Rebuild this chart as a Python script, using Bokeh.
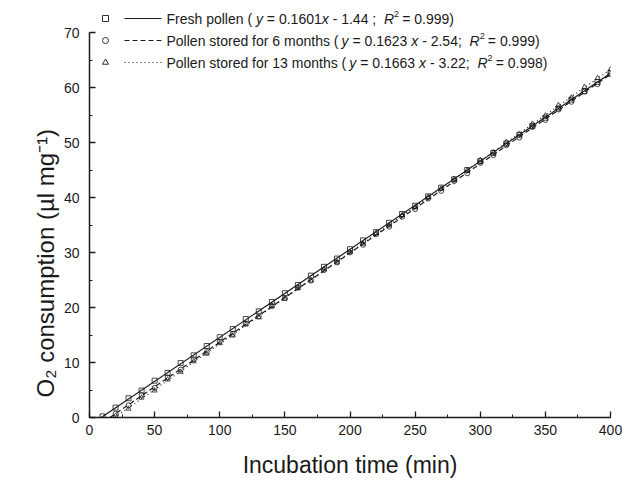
from bokeh.plotting import figure
from bokeh.models import Range1d, SingleIntervalTicker, Title
from bokeh.core.properties import value
from bokeh.embed import file_html
from bokeh.resources import INLINE

# ---------------- data ----------------
times = [10, 20, 30, 40, 50, 60, 70, 80, 90, 100, 110, 120, 130, 140, 150, 160, 170, 180, 190, 200,
         210, 220, 230, 240, 250, 260, 270, 280, 290, 300, 310, 320, 330, 340, 350, 360, 370, 380, 390, 400]
fresh = [0.2, 1.8, 3.5, 4.9, 6.7, 8.1, 9.9, 11.3, 13.0, 14.6, 16.1, 17.9, 19.3, 21.0, 22.6, 24.1, 25.8, 27.4, 28.9, 30.6,
         32.2, 33.7, 35.4, 37.0, 38.5, 40.2, 41.8, 43.3, 45.0, 46.6, 48.1, 49.8, 51.4, 53.0, 54.5, 56.2, 57.8, 59.3, 61.0, 62.6]
times_s = times[1:]
stored6 = [0.7, 2.2, 4.1, 5.4, 7.3, 8.7, 10.6, 11.9, 13.8, 15.2, 17.1, 18.4, 20.3, 21.7, 23.6, 24.9, 26.8, 28.2, 30.0,
           31.4, 33.3, 34.7, 36.5, 37.9, 39.8, 41.2, 43.0, 44.4, 46.3, 47.7, 49.5, 50.9, 52.8, 54.1, 56.0, 57.4, 59.3, 60.6, 62.4]
stored13 = [0.3, 1.6, 3.6, 4.9, 6.9, 8.3, 10.2, 11.6, 13.5, 14.9, 16.9, 18.2, 20.2, 21.6, 23.5, 24.9, 26.9, 28.2, 30.1,
            31.6, 33.5, 34.9, 36.8, 38.2, 40.1, 41.6, 43.4, 44.9, 46.8, 48.2, 50.1, 51.5, 53.4, 54.9, 56.8, 58.2, 60.1, 61.7, 63.3]

series_names = ["Fresh pollen", "Pollen stored for 6 months", "Pollen stored for 13 months"]
slopes = [0.1601, 0.1623, 0.1663]
intercepts = [-1.44, -2.54, -3.22]
r2_values = [0.999, 0.999, 0.998]
x_ticks_major = [0, 50, 100, 150, 200, 250, 300, 350, 400]
y_ticks_major = [0, 10, 20, 30, 40, 50, 60, 70]
x_title = "Incubation time (min)"
y_title = "O\u2082 consumption (\u00b5l mg\u207b\u00b9)"

# ---------------- layout helpers ----------------
FONT = "Liberation Sans"
INK = "#1a1a1a"
FRAME_LEFT = 89
PX_X = 1.3025   # px per minute
PX_Y = 5.5      # px per unit
FRAME_BOTTOM_PX = 417

W = {' ': 278, '(': 333, ')': 333, '=': 584, '.': 278, '-': 333, ';': 278, 'F': 611, 'P': 611, 'R': 722,
     'r': 333, 'e': 556, 's': 500, 'h': 556, 'p': 556, 'o': 556, 'l': 222, 'n': 556, 't': 278, 'd': 556,
     'f': 278, 'm': 833, 'i': 222, 'x': 500, 'y': 500}


def tw(s, size):
    return sum(W.get(c, 556) for c in s) * size / 1000.0


p = figure(width=628, height=485, output_backend="svg", toolbar_location=None,
           x_range=Range1d(0, 400), y_range=Range1d(0, FRAME_BOTTOM_PX / PX_Y),
           min_border_left=FRAME_LEFT, min_border_right=18, min_border_top=0, min_border_bottom=68)
p.outline_line_color = None
p.xgrid.visible = False
p.ygrid.visible = False
p.background_fill_color = "white"
p.border_fill_color = "white"

# axes
p.xaxis.ticker = SingleIntervalTicker(interval=50, num_minor_ticks=2)
p.yaxis.ticker = SingleIntervalTicker(interval=10, num_minor_ticks=2)
p.xaxis.bounds = (x_ticks_major[0], x_ticks_major[-1])
p.yaxis.bounds = (y_ticks_major[0], y_ticks_major[-1])
for ax in (p.xaxis, p.yaxis):
    ax.axis_line_color = INK
    ax.axis_line_width = 1.5
    ax.major_tick_in = 6
    ax.major_tick_out = 0
    ax.minor_tick_in = 3
    ax.minor_tick_out = 0
    ax.major_tick_line_color = INK
    ax.minor_tick_line_color = INK
    ax.major_tick_line_width = 1.3
    ax.major_label_text_font = FONT
    ax.major_label_text_font_size = "14px"
    ax.major_label_text_color = INK
    ax.axis_label_text_font = FONT
    ax.axis_label_text_font_size = "23px"
    ax.axis_label_text_font_style = "normal"
    ax.axis_label_text_color = INK
p.xaxis.major_label_standoff = 7
p.yaxis.major_label_standoff = 10
p.xaxis.axis_label = x_title
p.xaxis.axis_label_standoff = 14

# y title as a side title, anchored near the bottom as in the original
p.add_layout(Title(text=y_title, align="left", offset=20, standoff=4,
                   text_font=FONT, text_font_size="24px", text_font_style="normal",
                   text_color=INK), "left")

# regression lines
dashes = ["solid", "5 3", "1 3"]
for a, b, d in zip(slopes, intercepts, dashes):
    x0 = -b / a
    p.line([x0, 400], [a * x0 + b, a * 400 + b], line_color=INK, line_width=1.2, line_dash=d)

# observed points
markers = ["square", "circle", "triangle"]
for xs, ys, m in zip([times, times_s, times_s], [fresh, stored6, stored13], markers):
    p.scatter(xs, ys, marker=m, size=5, line_color=INK, line_width=0.8, fill_color=None)

# legend drawn manually
row_py = [18, 40, 62]
marker_px = 105
line_px = (124, 161)
text_px = 166
SIZE = 14
for i, (name, a, b, r2, m, d) in enumerate(zip(series_names, slopes, intercepts, r2_values, markers, dashes)):
    yd = (FRAME_BOTTOM_PX - row_py[i]) / PX_Y
    p.scatter([(marker_px - FRAME_LEFT) / PX_X], [yd], marker=m, size=6, line_color=INK,
              line_width=0.9, fill_color=None)
    p.line([(line_px[0] - FRAME_LEFT) / PX_X, (line_px[1] - FRAME_LEFT) / PX_X], [yd, yd],
           line_color=INK, line_width=1.2, line_dash=d)
    sep = " " if i > 0 else ""
    semi = ";  " if i > 0 else " ;  "
    segs = [
        (f"{name} ( ", "normal", SIZE, 0),
        ("y", "italic", SIZE, 0),
        (f" = {a:.4f}{sep}", "normal", SIZE, 0),
        ("x", "italic", SIZE, 0),
        (f" - {abs(b):.2f}{semi}", "normal", SIZE, 0),
        ("R", "italic", SIZE, 0),
        ("2", "normal", 9, -5),
        (f" = {r2:.3f})", "normal", SIZE, 0),
    ]
    cur = text_px - FRAME_LEFT
    for s, style, sz, yo in segs:
        lead = len(s) - len(s.lstrip(" "))
        shown = s.strip(" ")
        p.text([0], [yd], text=[shown], x_offset=cur + tw(" " * lead, sz), y_offset=yo,
               text_font=value(FONT), text_font_size=f"{sz}px", text_font_style=style,
               text_color=INK, text_baseline="middle", text_align="left")
        cur += tw(s, sz) * (0.85 if sz < SIZE else 1.0)

open("out.html", "w").write(file_html(p, INLINE))
